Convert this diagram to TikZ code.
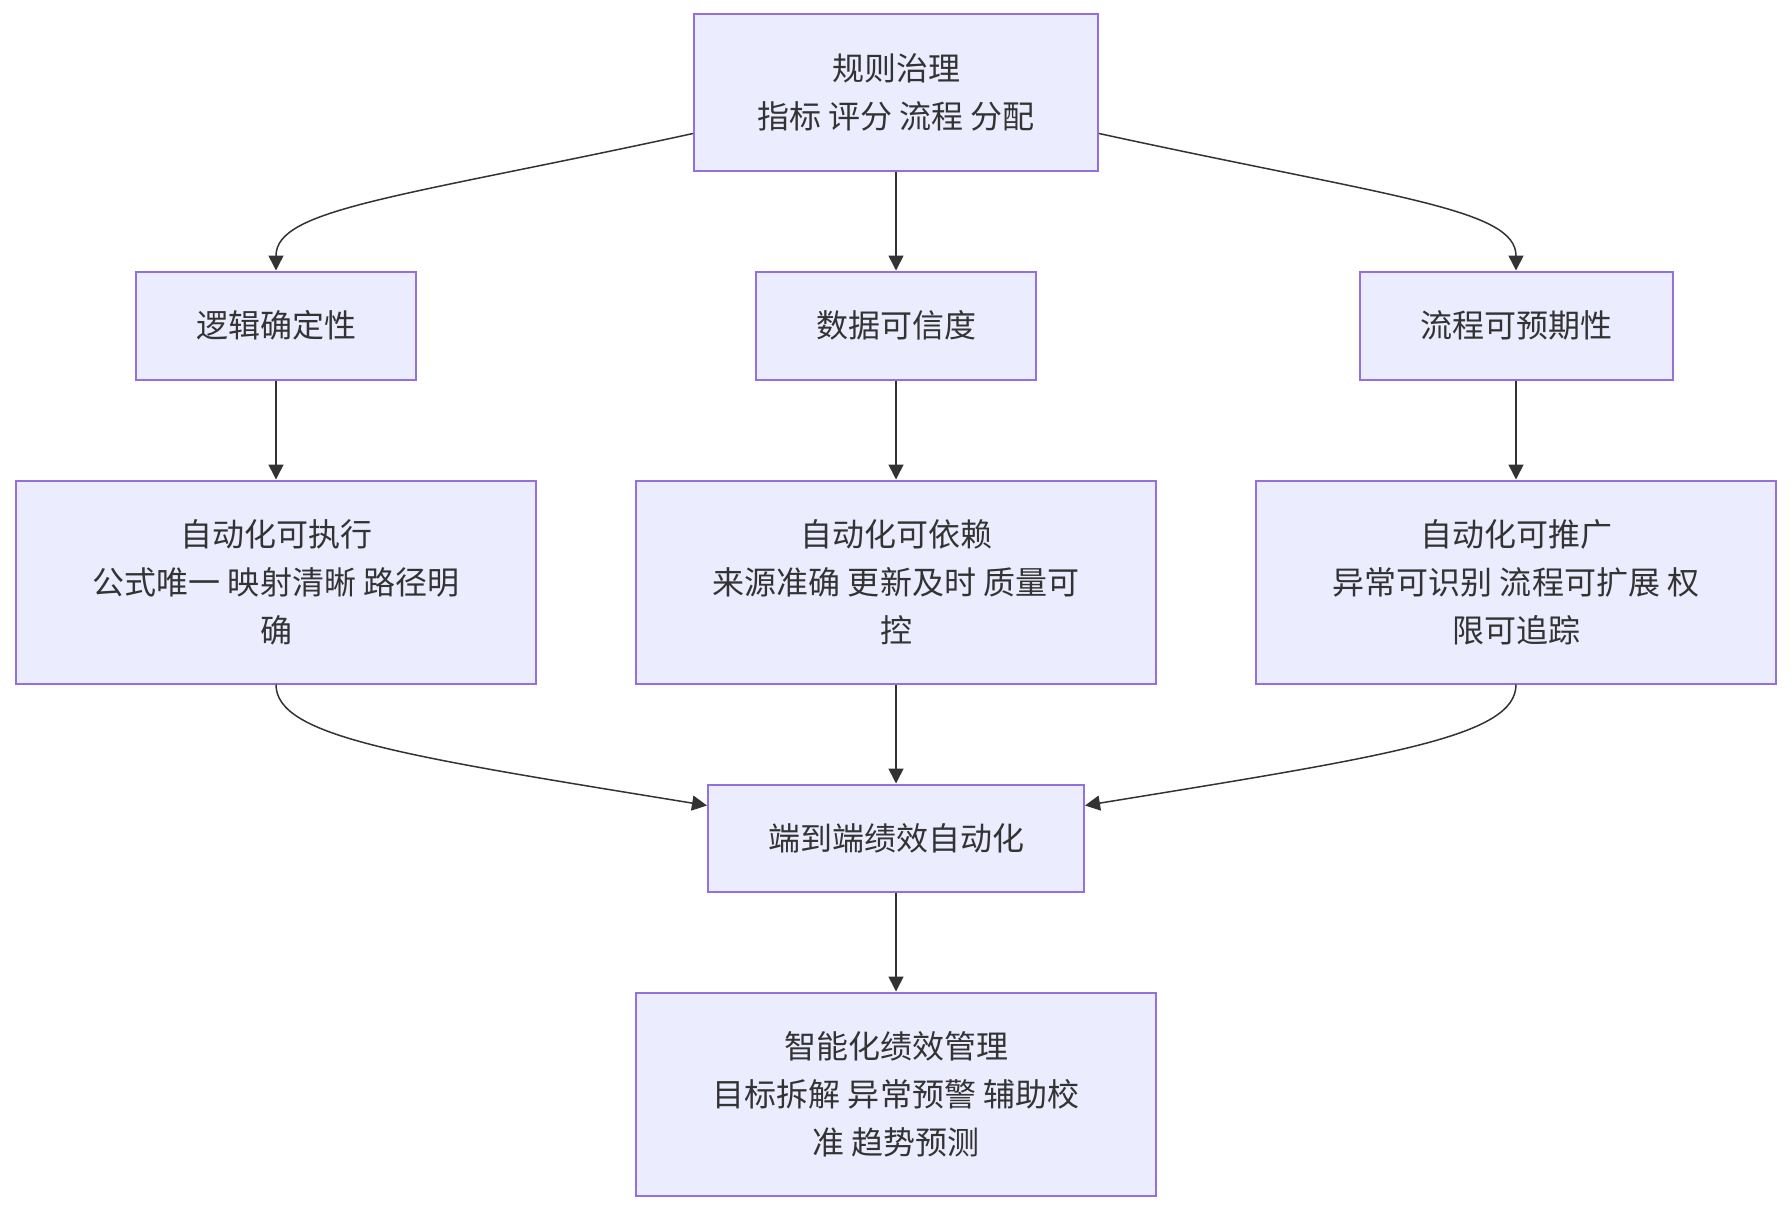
\documentclass[tikz,border=0pt]{standalone}
\usepackage{fontspec}
\usepackage{tikz}
\usetikzlibrary{arrows.meta, positioning}
\newfontfamily\cjk{Noto Sans CJK SC}
\definecolor{nodefill}{HTML}{ECECFF}
\definecolor{nodeline}{HTML}{9370DB}
\definecolor{edgecol}{HTML}{333333}

\begin{document}
\begin{tikzpicture}[
  x=0.5pt, y=-0.5pt,
  node distance=49.5pt and 49pt,
  box/.style={rectangle, draw=nodeline, line width=1pt, fill=nodefill, align=center, text=edgecol, font=\cjk\fontsize{16}{24}\selectfont, inner sep=0pt},
  small/.style={box, minimum width=140pt, minimum height=54pt},
  wide/.style={box, minimum width=260pt, minimum height=101.5pt},
  arrow/.style={-{Triangle[length=7.5pt, width=7.5pt]}, line width=0.75pt, draw=edgecol},
]
\useasboundingbox (0,0) rectangle (1792,1212);
% middle column first, the rest hangs off it
\node[small] (data) at (896,325.5) {数据可信度};
\node[box, minimum width=202pt, minimum height=78.5pt, above=of data] (rule) {规则治理\\指标 评分 流程 分配};
\node[wide, below=of data] (autodep) {自动化可依赖\\来源准确 更新及时 质量可\\控};
\node[wide, left=of autodep] (autoexec) {自动化可执行\\公式唯一 映射清晰 路径明\\确};
\node[wide, right=of autodep] (autoext) {自动化可推广\\异常可识别 流程可扩展 权\\限可追踪};
\node[small, above=of autoexec] (logic) {逻辑确定性};
\node[small, minimum width=156.5pt, above=of autoext] (flow) {流程可预期性};
\node[box, minimum width=188pt, minimum height=53.5pt, below=of autodep] (e2e) {端到端绩效自动化};
\node[wide, below=of e2e] (smart) {智能化绩效管理\\目标拆解 异常预警 辅助校\\准 趋势预测};

\draw[arrow] ([yshift=-20.75pt]rule.west) .. controls +(-294,64) and +(0,-62) .. (logic.north);
\draw[arrow] (rule.south) -- (data.north);
\draw[arrow] ([yshift=-20.75pt]rule.east) .. controls +(294,64) and +(0,-62) .. (flow.north);
\draw[arrow] (logic) -- (autoexec);
\draw[arrow] (data) -- (autodep);
\draw[arrow] (flow) -- (autoext);
\draw[arrow] (autoexec.south) .. controls +(0,52) and +(-307,-50) .. ([yshift=16.25pt]e2e.west);
\draw[arrow] (autodep) -- (e2e);
\draw[arrow] (autoext.south) .. controls +(0,52) and +(307,-50) .. ([yshift=16.25pt]e2e.east);
\draw[arrow] (e2e) -- (smart);
\end{tikzpicture}
\end{document}
